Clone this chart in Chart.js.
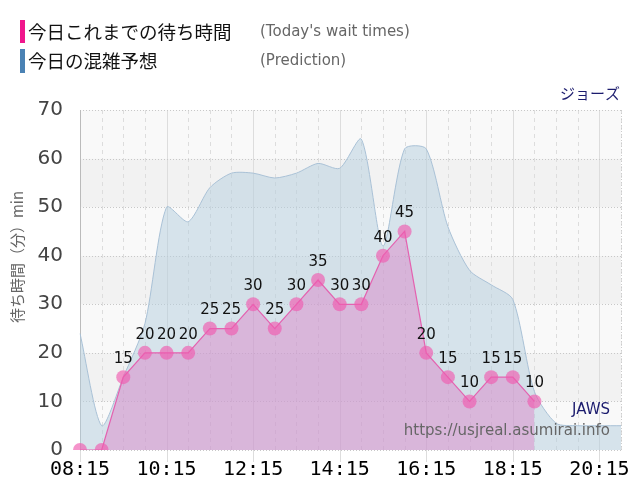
<!DOCTYPE html>
<html>
<head>
<meta charset="utf-8">
<script src="https://cdn.jsdelivr.net/npm/chart.js@4"></script>
<style>
    html, body { margin: 0; padding: 0; background: #fff; }
    canvas { display: block; }
</style>
</head>
<body>
<canvas id="waitChart" width="640" height="500"></canvas>
<script>
// every 30 minutes, 08:15 - 20:45
const timeLabels = ['08:15', '08:45', '09:15', '09:45', '10:15', '10:45', '11:15', '11:45',
    '12:15', '12:45', '13:15', '13:45', '14:15', '14:45', '15:15', '15:45', '16:15', '16:45',
    '17:15', '17:45', '18:15', '18:45', '19:15', '19:45', '20:15', '20:45'];

// today's wait times so far (min)
const waitTimes = [0, 0, 15, 20, 20, 20, 25, 25, 30, 25, 30, 35, 30, 30, 40, 45, 20, 15, 10, 15, 15, 10];

// predicted wait times (min)
const prediction = [24, 5, 15, 26, 50, 47, 54, 57, 57, 56, 57, 59, 58, 64, 42, 62, 62, 46, 37, 34, 31, 12, 5.5, 5, 5, 5];

const yTicks = [0, 10, 20, 30, 40, 50, 60, 70];

const FONT = '"DejaVu Sans", Verdana, sans-serif';
const JP_FONT = '"Noto Sans CJK JP", sans-serif';

// bands + grid behind the data
const backgroundGrid = {
    id: 'backgroundGrid',
    beforeDatasetsDraw(chart) {
        const { ctx, chartArea: a, scales: { x, y } } = chart;
        ctx.save();
        for (let i = 0; i < yTicks.length - 1; i++) {
            const top = y.getPixelForValue(yTicks[i + 1]);
            const bot = y.getPixelForValue(yTicks[i]);
            ctx.fillStyle = (i % 2 === 0) ? '#f9f9f9' : '#f2f2f2';
            ctx.fillRect(a.left, top, a.right - a.left, bot - top);
        }
        // vertical lines
        timeLabels.forEach((t, i) => {
            const px = Math.round(x.getPixelForValue(i)) + 0.5;
            ctx.beginPath();
            ctx.lineWidth = 1;
            ctx.strokeStyle = '#dddddd';
            if (i % 4 === 0) {
                ctx.setLineDash([]);
                ctx.moveTo(px, a.top);
                ctx.lineTo(px, a.bottom + 12);
            } else {
                ctx.setLineDash([4, 4]);
                ctx.moveTo(px, a.top);
                ctx.lineTo(px, a.bottom);
            }
            ctx.stroke();
        });
        // right edge
        ctx.beginPath();
        ctx.setLineDash([1, 2]);
        ctx.strokeStyle = '#cccccc';
        ctx.moveTo(a.right + 0.5, a.top);
        ctx.lineTo(a.right + 0.5, a.bottom);
        ctx.stroke();
        // horizontal dotted lines
        yTicks.forEach(v => {
            const py = Math.round(y.getPixelForValue(v)) + 0.5;
            ctx.beginPath();
            ctx.setLineDash([1, 2]);
            ctx.strokeStyle = '#c8c8c8';
            ctx.moveTo(a.left, py);
            ctx.lineTo(a.right, py);
            ctx.stroke();
        });
        // left axis
        ctx.beginPath();
        ctx.setLineDash([]);
        ctx.strokeStyle = '#bbbbbb';
        ctx.moveTo(a.left + 0.5, a.top);
        ctx.lineTo(a.left + 0.5, a.bottom);
        ctx.stroke();
        ctx.restore();
    }
};

// value labels above the pink points
const pointLabels = {
    id: 'pointLabels',
    afterDatasetsDraw(chart) {
        const { ctx } = chart;
        const meta = chart.getDatasetMeta(0);
        ctx.save();
        ctx.font = '15px ' + FONT;
        ctx.fillStyle = '#111';
        ctx.textAlign = 'center';
        ctx.textBaseline = 'middle';
        meta.data.forEach((pt, i) => {
            if (waitTimes[i] > 0) {
                ctx.fillText(String(waitTimes[i]), pt.x, pt.y - 18);
            }
        });
        ctx.restore();
    }
};

// legend, titles, watermark
const extraText = {
    id: 'extraText',
    afterDraw(chart) {
        const { ctx } = chart;
        ctx.save();
        // legend
        ctx.fillStyle = '#f0168c';
        ctx.fillRect(20, 20, 5, 23);
        ctx.fillStyle = '#4a82b4';
        ctx.fillRect(20, 49, 5, 24);
        ctx.textBaseline = 'middle';
        ctx.textAlign = 'left';
        ctx.fillStyle = '#111';
        ctx.font = '18.5px ' + JP_FONT;
        ctx.fillText('今日これまでの待ち時間', 28, 32);
        ctx.fillText('今日の混雑予想', 28, 61);
        ctx.fillStyle = '#666';
        ctx.font = '15px ' + FONT;
        ctx.fillText("(Today's wait times)", 260, 32);
        ctx.fillText('(Prediction)', 260, 61);

        // attraction name
        ctx.textAlign = 'right';
        ctx.fillStyle = '#1c1c6e';
        ctx.font = '15px ' + JP_FONT;
        ctx.fillText('ジョーズ', 620, 93);
        ctx.font = '15px ' + FONT;
        ctx.fillText('JAWS', 610, 410);
        ctx.fillStyle = '#666';
        ctx.fillText('https://usjreal.asumirai.info', 610, 431);

        // y axis title
        ctx.translate(17, 257);
        ctx.rotate(-Math.PI / 2);
        ctx.textAlign = 'center';
        ctx.fillStyle = '#666';
        ctx.font = '15px ' + JP_FONT;
        ctx.fillText('待ち時間（分）min', 0, 0);
        ctx.restore();
    }
};

const ctx = document.getElementById('waitChart').getContext('2d');
const waitChart = new Chart(ctx, {
    type: 'line',
    data: {
        labels: timeLabels,
        datasets: [{
            label: '今日これまでの待ち時間',
            data: waitTimes,
            order: 0,
            borderColor: '#e462b0',
            borderWidth: 1.2,
            backgroundColor: 'rgba(222, 120, 195, 0.42)',
            fill: 'origin',
            tension: 0,
            pointRadius: 7,
            pointBorderWidth: 0,
            pointBackgroundColor: 'rgba(240, 90, 175, 0.65)'
        }, {
            label: '今日の混雑予想',
            data: prediction,
            order: 1,
            borderColor: '#a9c1d6',
            borderWidth: 1,
            backgroundColor: 'rgba(180, 205, 222, 0.5)',
            fill: 'origin',
            tension: 0.25,
            pointRadius: 0
        }]
    },
    options: {
        responsive: false,
        animation: false,
        layout: { padding: { top: 110, right: 19, left: 0, bottom: 0 } },
        plugins: {
            legend: { display: false },
            tooltip: { enabled: false }
        },
        scales: {
            x: {
                grid: { display: false, drawTicks: false },
                border: { display: false },
                ticks: {
                    autoSkip: false,
                    maxRotation: 0,
                    padding: 8,
                    color: '#000',
                    font: { family: '"DejaVu Sans Mono", monospace', size: 20 },
                    callback: (val, i) => (i % 4 === 0 ? timeLabels[i] : '')
                },
                afterFit: scale => { scale.height = 50; }
            },
            y: {
                min: 0,
                max: 70,
                grid: { display: false, drawTicks: false },
                border: { display: false },
                ticks: {
                    stepSize: 10,
                    padding: 17,
                    color: '#444',
                    font: { family: FONT, size: 20 }
                },
                afterFit: scale => { scale.width = 80; }
            }
        }
    },
    plugins: [backgroundGrid, pointLabels, extraText]
});
</script>
</body>
</html>
